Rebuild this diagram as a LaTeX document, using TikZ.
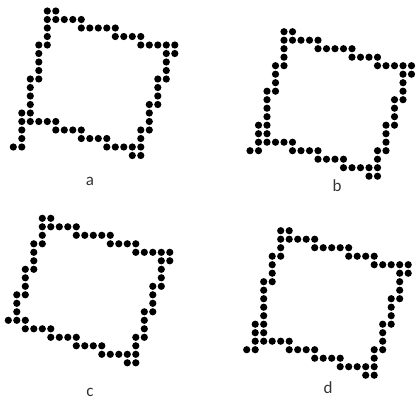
\documentclass[tikz,border=0pt]{standalone}
\usepackage{fontspec}
\setmainfont{Carlito}
\usepackage{tikz}
\tikzset{
  grain/.style={fill=black},
  panel label/.style={font=\fontsize{17}{19}\selectfont, text=black!80, inner sep=0pt},
}
\newcommand{\outlinetop}{4/0,5/0,4/1,5/1,6/1,7/1,8/1,8/2,9/2,10/2,11/2,12/2,12/3,13/3,14/3,15/3,15/4,16/4,17/4,18/4,19/4,18/5,19/5,
  18/6,18/7,18/8,17/8,17/9,17/10,17/11,16/11,16/12,16/13,16/14,15/14,15/15,15/16,15/17,14/17,
  14/16,13/16,12/16,11/16,11/15,10/15,9/15,8/15,8/14,7/14,6/14,5/14,5/13,4/13,3/13,2/13}
\newcommand{\grainpanel}[3]{%
  \foreach \c/\r in \outlinetop {\fill[grain] (#1+8.5*\c,#2+8.5*\r) circle (3.6);}
  \foreach \c/\r in {#3} {\fill[grain] (#1+8.5*\c,#2+8.5*\r) circle (3.6);}
}
\begin{document}
\begin{tikzpicture}[x=1pt,y=-1pt]
    \useasboundingbox[fill=white] (0,0) rectangle (417,402);
    \grainpanel{13.3}{11}{4/2,4/3,4/4,3/4,3/5,3/6,3/7,3/8,2/8,2/9,2/10,2/11,2/12,1/12,1/13,1/14,1/15,1/16,0/16}
    \grainpanel{250}{31.7}{4/2,4/3,4/4,3/4,3/5,3/6,3/7,2/7,2/8,2/9,2/10,2/11,2/12,1/11,1/12,1/13,1/14,0/14}
    \grainpanel{8.3}{218.3}{4/2,4/3,3/3,3/4,3/5,3/6,2/6,2/7,2/8,2/9,1/9,1/10,1/11,1/12,0/12,2/12}
    \grainpanel{246.7}{230.7}{4/2,4/3,3/3,3/4,3/5,3/6,2/6,2/7,2/8,2/9,2/10,2/11,2/12,1/11,1/12,1/13,1/14,0/14}
    \node[panel label] (la) at (90,181) {a};
    \node[panel label] (lb) at (337,186) {b};
    \node[panel label] (lc) at (90,392) {c};
    \node[panel label] (ld) at (328,388) {d};
\end{tikzpicture}
\end{document}
